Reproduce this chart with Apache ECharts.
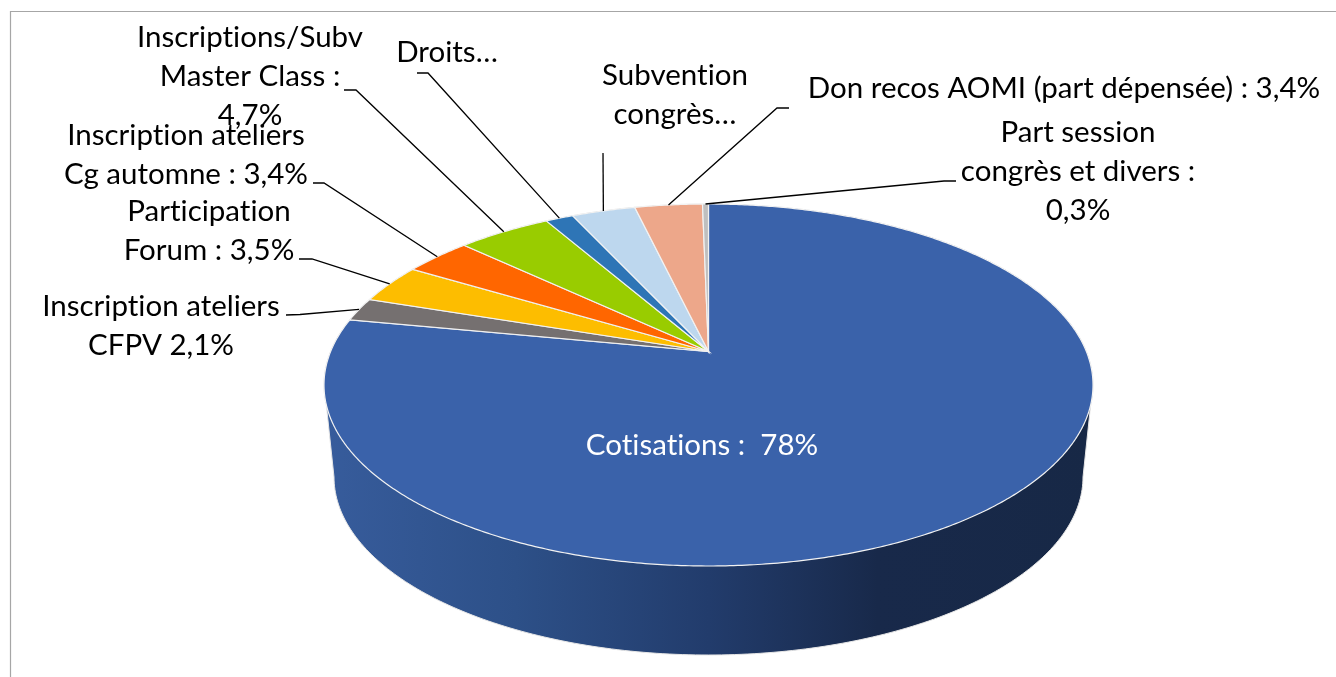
<!DOCTYPE html>
<html><head><meta charset="utf-8">
<style>html,body{margin:0;padding:0;background:#fff;overflow:hidden}#c{width:1336px;height:677px}</style>
<script src="https://cdn.jsdelivr.net/npm/echarts@6/dist/echarts.min.js"></script>
</head><body><div id="c"></div>
<script>
// ---- data (clockwise from 12 o'clock)
const sliceNames = ['Cotisations','Inscription ateliers CFPV','Participation Forum','Inscription ateliers Cg automne','Inscriptions/Subv Master Class','Droits','Subvention congrès','Don recos AOMI (part dépensée)','Part session congrès et divers'];
const sliceValues = [78, 2.1, 3.5, 3.4, 4.7, 1.4, 3.2, 3.4, 0.3];
const labelTexts = ['Cotisations :  78%','Inscription ateliers\nCFPV 2,1%','Participation\nForum : 3,5%','Inscription ateliers\nCg automne : 3,4%','Inscriptions/Subv\nMaster Class :\n4,7%','Droits…','Subvention\ncongrès…','Don recos AOMI (part dépensée) : 3,4%','Part session\ncongrès et divers :\n0,3%'];
// ---- styling
const sliceColors = ['#3A62AA','#757070','#FDBD00','#FF6600','#99CC00','#2E75B6','#BDD7EE','#EDA78A','#BFBFBF'];
const labelColors = ['#fff','#000','#000','#000','#000','#000','#000','#000','#000'];
const labelPos = [[702,445],[161,326],[209,231],[186,155],[250,76],[447,52],[675,95],[1064,88.5],[1078,171.5]];
const leaders = [null,
  [[286,315],[300,314.5]],[[299,259],[312,259]],[[313,183],[324,183]],[[344,90],[356,90]],
  [[417,73],[428,73]],[[603,153]],[[789,108],[777,108]],[[956,181],[944,181]]];
const TOP = {cx:708.5, cy:385, rx:384.5, ry:181, d:0.185};
const BOT = {cx:708.5, cy:477, rx:374.5, ry:178};
const FONT = 'Lato';
const FS = 29.5;

// plain glyphs, no "ti" ligature (the reference font has none)
const origGetContext = HTMLCanvasElement.prototype.getContext;
HTMLCanvasElement.prototype.getContext = function(){
  const ctx = origGetContext.apply(this, arguments);
  if(ctx && 'textRendering' in ctx) ctx.textRendering = 'optimizeSpeed';
  return ctx;
};

function rimPoint(frac){
  const t = frac*2*Math.PI, u=Math.cos(t), v=Math.sin(t), k=1+TOP.d*u;
  return [TOP.cx + TOP.rx*v*Math.sqrt(1-TOP.d*TOP.d)/k, TOP.cy - TOP.ry*(u+TOP.d)/k];
}
const apex = [TOP.cx, TOP.cy - TOP.ry*TOP.d];
const total = sliceValues.reduce((a,b)=>a+b,0);

function renderSlice(params, api){
  const i = params.dataIndex, val = api.value(0);
  let start = 0;
  for(let k=0;k<i;k++) start += sliceValues[k];
  const f0 = start/total, f1 = (start+val)/total;
  const n = Math.max(4, Math.ceil((f1-f0)*720));
  const pts = [apex];
  for(let k=0;k<=n;k++) pts.push(rimPoint(f0+(f1-f0)*k/n));
  const children = [{type:'polygon', z2:1, shape:{points:pts}, style:{fill:sliceColors[i], stroke:'#F2F2F2', lineWidth:1.2, lineJoin:'miter'}}];
  if(leaders[i]){
    children.push({type:'polyline', z2:5, shape:{points:[...leaders[i], rimPoint((f0+f1)/2)]}, style:{fill:null, stroke:'#000', lineWidth:1.3}});
  }
  children.push({type:'text', z2:10, style:{text:labelTexts[i], x:labelPos[i][0], y:labelPos[i][1], align:'center', verticalAlign:'middle', fontFamily:FONT, fontSize:FS, lineHeight:39, fill:labelColors[i]}});
  return {type:'group', children};
}
function renderWall(){
  const pts=[];
  const n=180;
  for(let k=0;k<=n;k++){ const a=Math.PI*k/n; pts.push([BOT.cx+BOT.rx*Math.cos(a), BOT.cy+BOT.ry*Math.sin(a)]); }
  const s=0.11;
  for(let k=0;k<=n;k++){ const a=Math.PI+s-(Math.PI+2*s)*k/n; pts.push([TOP.cx+TOP.rx*Math.cos(a), TOP.cy-TOP.ry*Math.sin(a)]); }
  return {type:'polygon', shape:{points:pts}, style:{
    fill:new echarts.graphic.LinearGradient(0,0,1,0,[
      {offset:0,color:'#375C9C'},{offset:0.25,color:'#2D5088'},{offset:0.5,color:'#223C6C'},{offset:0.72,color:'#18294A'},{offset:1,color:'#172846'}]),
    stroke:'#E6E6E6', lineWidth:1}};
}
const chart = echarts.init(document.getElementById('c'),null,{renderer:'canvas'});
chart.setOption({
  backgroundColor:'#fff', animation:false,
  graphic:[{type:'polyline', silent:true, shape:{points:[[10.5,677],[10.5,11.5],[1336,11.5]]}, style:{fill:null, stroke:'#A6A6A6', lineWidth:1.2}}],
  series:[
    {type:'custom', coordinateSystem:'none', silent:true, z:1, data:[[sliceValues[0]]], renderItem:renderWall},
    {type:'custom', coordinateSystem:'none', silent:true, z:2, data:sliceValues.map((v,i)=>({name:sliceNames[i],value:[v]})), renderItem:renderSlice}
  ]
});
</script></body></html>
